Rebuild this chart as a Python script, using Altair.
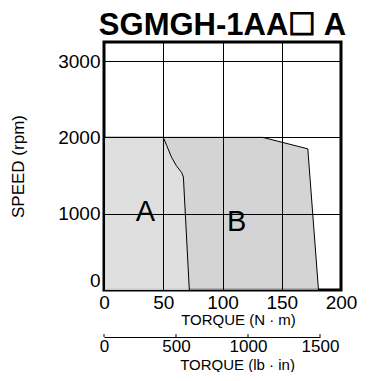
import altair as alt
import pandas as pd

FONT = "Liberation Sans"

# Outer boundary (region B outer edge), N·m vs rpm
outer_torque = [0, 134, 172, 181]
outer_speed = [2000, 2000, 1850, 0]

# Region A boundary
a_torque = [0, 50, 53, 57, 61, 65.5, 67, 72]
a_speed = [2000, 2000, 1890, 1740, 1630, 1540, 1480, 0]

# Region labels
label_text = ["A", "B"]
label_torque = [35, 112]
label_speed = [1026, 895]

x_ticks = [0, 50, 100, 150, 200]
y_ticks = [0, 1000, 2000, 3000]
lbin_ticks = [0, 500, 1000, 1500]

outer_df = pd.DataFrame({"torque": outer_torque, "speed": outer_speed})
a_df = pd.DataFrame({"torque": a_torque, "speed": a_speed})
lab_df = pd.DataFrame({"t": label_text, "torque": label_torque, "speed": label_speed})
lbin_df = pd.DataFrame({"v": lbin_ticks})

xscale = alt.Scale(domain=[0, 200], nice=False)
yscale = alt.Scale(domain=[0, 3250], nice=False)

xaxis = alt.Axis(values=x_ticks, format="d", title="TORQUE (N · m)", grid=True,
                 gridColor="black", gridOpacity=1, gridWidth=1, domain=False, ticks=False,
                 labelFontSize=19, labelPadding=3, labelFlush=False, labelColor="black",
                 titleFontSize=15, titleFontWeight="normal", titleColor="black",
                 titlePadding=0, titleX=134, titleAlign="center", zindex=1)
yaxis = alt.Axis(values=y_ticks, format="d", title="SPEED (rpm)", grid=True,
                 gridColor="black", gridOpacity=1, gridWidth=1, domain=False, ticks=False,
                 labelFontSize=19, labelPadding=4, labelFlush=True, labelColor="black",
                 titleFontSize=17, titleFontWeight="normal", titleColor="black",
                 titlePadding=30, zindex=1)

outer = alt.Chart(outer_df).mark_area(
    color="#c2c2c2", line={"color": "black", "strokeWidth": 1}, interpolate="linear"
).encode(
    x=alt.X("torque:Q", scale=xscale, axis=xaxis),
    y=alt.Y("speed:Q", scale=yscale, axis=yaxis),
)

inner = alt.Chart(a_df).mark_area(
    color="#e4e4e4", line={"color": "black", "strokeWidth": 1}, interpolate="linear"
).encode(
    x=alt.X("torque:Q", scale=xscale),
    y=alt.Y("speed:Q", scale=yscale),
)

labels = alt.Chart(lab_df).mark_text(
    fontSize=29, font=FONT, color="black", baseline="middle", align="center"
).encode(
    x=alt.X("torque:Q", scale=xscale),
    y=alt.Y("speed:Q", scale=yscale),
    text="t:N",
)

main = alt.layer(outer, inner, labels).properties(
    width=237, height=248,
    title=alt.TitleParams("SGMGH-1AA☐ A", fontSize=31, fontWeight="bold", font=FONT,
                          anchor="middle", color="black", offset=0),
    view=alt.ViewBackground(stroke="black", strokeWidth=3),
)

sec = alt.Chart(lbin_df).mark_rule(color="black", strokeWidth=1).encode(
    x=alt.X("v:Q", scale=alt.Scale(domain=[0, 1500], nice=False),
            axis=alt.Axis(values=lbin_ticks, format="d", title="TORQUE (lb · in)",
                          grid=False, domain=True, domainColor="black", domainWidth=1,
                          ticks=False, labelFontSize=17, labelPadding=1,
                          labelFlush=False, labelOverlap=False, labelColor="black",
                          titleFontSize=15, titleFontWeight="normal", titleColor="black",
                          titlePadding=3, titleX=133, titleAlign="center")),
).properties(width=216, height=3, view=alt.ViewBackground(stroke=None))

chart = alt.vconcat(main, sec, spacing=4).properties(
    padding=0
).configure(
    font=FONT
).configure_view(stroke=None)

chart.save("out.html", embed_options={"renderer": "svg", "actions": False})
